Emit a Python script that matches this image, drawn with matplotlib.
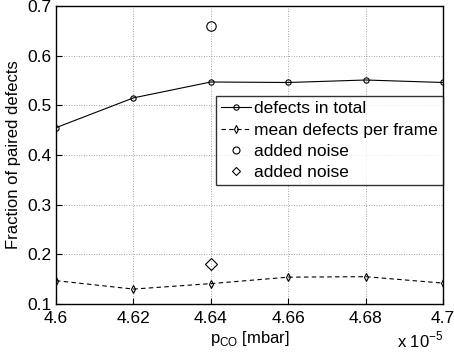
import matplotlib
matplotlib.use('Agg')
import matplotlib.pyplot as plt

plt.rcParams['font.family'] = ['Liberation Sans', 'DejaVu Sans']
plt.rcParams['mathtext.fontset'] = 'custom'
plt.rcParams['mathtext.rm'] = 'Liberation Sans'

# pressure in units of 1e-5 mbar
p_co = [4.60, 4.62, 4.64, 4.66, 4.68, 4.70]
total = [0.455, 0.515, 0.547, 0.546, 0.551, 0.546]
mean_frame = [0.147, 0.130, 0.141, 0.154, 0.155, 0.142]
noise_p = [4.64]
noise_total = [0.660]
noise_mean = [0.180]

fig = plt.figure(figsize=(4.54, 3.6), dpi=100)
ax = fig.add_axes([0.1233, 0.1556, 0.8525, 0.8277])

ax.plot(p_co, total, '-', color='black', lw=0.8, marker='o', ms=3.8,
        mfc='none', mew=0.8, label='defects in total')
ax.plot(p_co, mean_frame, '--', color='black', lw=0.8, marker='d', ms=4.2,
        mfc='none', mew=0.8, dashes=(4, 3), label='mean defects per frame')
ax.plot(noise_p, noise_total, 'o', color='black', ms=6.8, mfc='none',
        mew=0.8, label='added noise')
ax.plot(noise_p, noise_mean, 'D', color='black', ms=6.0, mfc='none',
        mew=0.8, label='added noise')

ax.set_xlim(4.6, 4.7)
ax.set_ylim(0.1, 0.7)
ax.set_xticks(p_co)
ax.set_xticklabels(['4.6', '4.62', '4.64', '4.66', '4.68', '4.7'])
ax.set_yticks([0.1, 0.2, 0.3, 0.4, 0.5, 0.6, 0.7])
ax.set_yticklabels(['0.1', '0.2', '0.3', '0.4', '0.5', '0.6', '0.7'])
ax.tick_params(direction='in', labelsize=12.5, length=4)
ax.tick_params(axis='x', pad=5)
ax.tick_params(axis='y', pad=3)
ax.grid(True, color='#888888', linestyle=(0, (1, 2)), lw=0.6)
for s in ax.spines.values():
    s.set_linewidth(1.0)

ax.set_xlabel(r'p$_{\mathrm{CO}}$ [mbar]', fontsize=12, labelpad=2)
ax.set_ylabel('Fraction of paired defects', fontsize=12, labelpad=5)
ax.text(1.0, -0.085, r'x 10$^{-5}$', transform=ax.transAxes,
        ha='right', va='top', fontsize=12)

leg = ax.legend(loc='upper right', bbox_to_anchor=(1.0, 0.698), fontsize=12.5,
                frameon=True, fancybox=False, edgecolor='black',
                borderpad=0.3, labelspacing=0.35, handlelength=1.7,
                handletextpad=0.2, borderaxespad=0.0)
leg.get_frame().set_linewidth(1.0)
leg.legend_handles[2].set_markersize(5)
leg.legend_handles[3].set_markersize(4.5)

fig.savefig('out.png', dpi=100)
